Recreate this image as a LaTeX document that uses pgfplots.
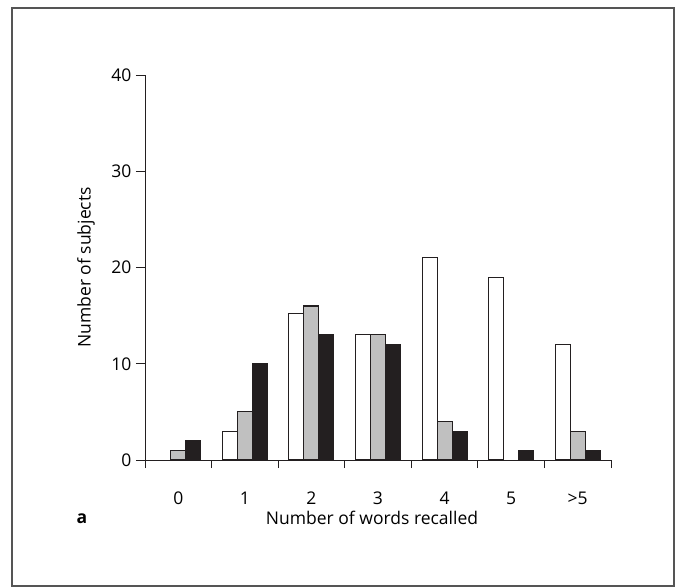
\documentclass[border=0pt]{standalone}
\usepackage{pgfplots}
\pgfplotsset{compat=1.18}
\usepackage{fontspec}
\setmainfont{Open Sans}
\definecolor{barblack}{HTML}{231F20}
\definecolor{bargray}{HTML}{C0C0C0}
\definecolor{framegray}{HTML}{555555}
\begin{document}
\begin{tikzpicture}[x=1pt,y=1pt]
\path[use as bounding box] (-145,-127) rectangle (534,460);
\draw[framegray, line width=1.6pt] (-133,-126) rectangle (529,452);
\begin{axis}[
  at={(0,0)}, anchor=south west,
  scale only axis, width=466pt, height=385pt,
  font=\fontsize{17.5}{20}\selectfont,
  /pgf/number format/assume math mode=true,
  xmin=-0.5, xmax=6.5, ymin=0, ymax=40,
  axis x line=bottom, axis y line=left,
  axis line style={-, line width=0.9pt, barblack},
  xtick={0,1,2,3,4,5,6},
  xticklabels={0,1,2,3,4,5,>5},
  major x tick style={draw=none},
  minor xtick={-0.5,0.5,1.5,2.5,3.5,4.5,5.5,6.5},
  minor tick length=8pt,
  xtick pos=bottom,
  x tick style={line width=0.9pt, barblack},
  xticklabel style={yshift=-19pt},
  ytick={0,10,20,30,40},
  ytick pos=left,
  y tick style={line width=0.9pt, barblack},
  major tick length=9pt,
  tick align=outside,
  yticklabel style={xshift=-1pt},
  xlabel={Number of words recalled},
  ylabel={Number of subjects},
  xlabel style={at={(axis description cs:0.5,0)}, anchor=center, yshift=-58pt, xshift=-6pt},
  ylabel style={at={(axis description cs:0,0.5)}, anchor=center, yshift=59pt},
  ybar, bar width=15pt,
  every axis plot/.append style={draw=barblack, line width=1.1pt},
  clip=false,
]
\addplot[fill=white, bar shift=-15pt] coordinates {(1,3) (2,15.2) (3,13) (4,21) (5,19) (6,12)};
\addplot[fill=bargray, bar shift=0pt] coordinates {(0,1) (1,5) (2,16) (3,13) (4,4) (6,3)};
\addplot[fill=barblack, bar shift=15pt] coordinates {(0,2) (1,10) (2,13) (3,12) (4,3) (5,1) (6,1)};
\end{axis}
\node[font=\fontsize{17.5}{20}\selectfont\bfseries] at (-63,-59) {a};
\end{tikzpicture}
\end{document}
